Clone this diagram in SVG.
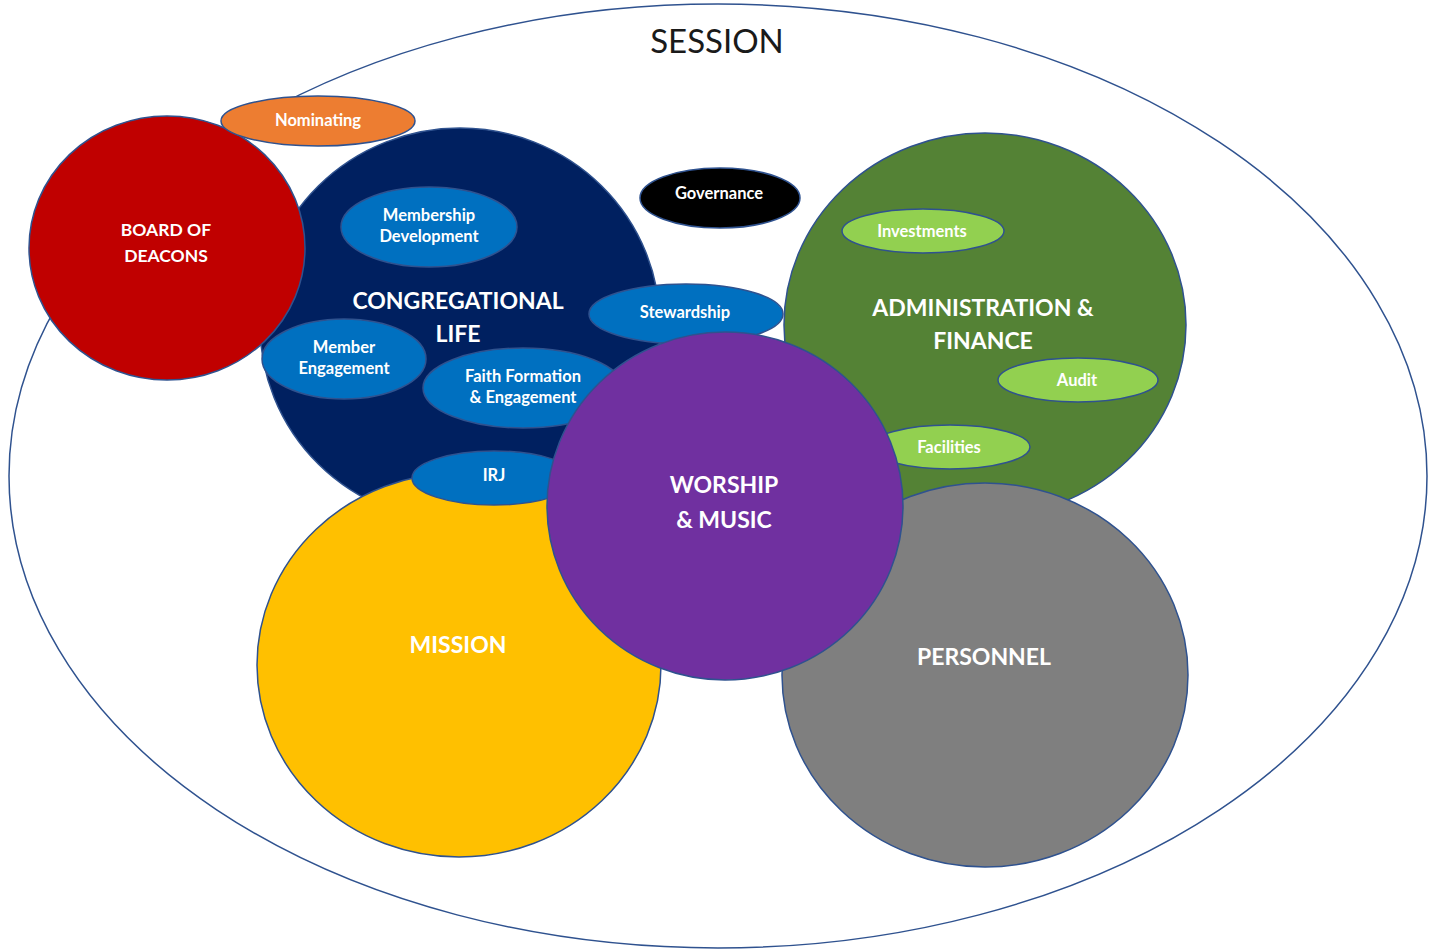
<svg xmlns="http://www.w3.org/2000/svg" width="1437" height="951" viewBox="0 0 1437 951">
<style>
.n{stroke:#2F528F;stroke-width:1.5}
.t{font-family:Lato,"Open Sans","Liberation Sans",sans-serif;font-weight:bold;fill:#fff;text-anchor:middle}
.big{font-size:23px}
.sm{font-size:16.5px}
</style>
<rect width="1437" height="951" fill="#fff"/>
<g id="session">
<ellipse class="n" cx="718" cy="476" rx="709" ry="472" fill="#fff"/>
<text x="717" y="53" style="font-family:Lato,'Open Sans','Liberation Sans',sans-serif;font-size:33px;fill:#1a1a1a;text-anchor:middle">SESSION</text>
</g>
<g id="congregational-life">
<ellipse class="n" cx="460" cy="325" rx="200" ry="197" fill="#002060"/>
<text class="t big" x="458" y="309">CONGREGATIONAL</text>
<text class="t big" x="458" y="342">LIFE</text>
</g>
<g id="membership-development">
<ellipse class="n" cx="429" cy="227" rx="88" ry="40" fill="#0070C0"/>
<text class="t sm" x="429" y="221">Membership</text>
<text class="t sm" x="429" y="242">Development</text>
</g>
<g id="member-engagement">
<ellipse class="n" cx="344" cy="359" rx="82" ry="40" fill="#0070C0"/>
<text class="t sm" x="344" y="353">Member</text>
<text class="t sm" x="344" y="374">Engagement</text>
</g>
<g id="faith-formation">
<ellipse class="n" cx="523" cy="388" rx="100" ry="40" fill="#0070C0"/>
<text class="t sm" x="523" y="382">Faith Formation</text>
<text class="t sm" x="523" y="403">&amp; Engagement</text>
</g>
<g id="board-of-deacons">
<ellipse class="n" cx="167" cy="248" rx="138" ry="132" fill="#C00000"/>
<text class="t" style="font-size:17.5px" x="166" y="236">BOARD OF</text>
<text class="t" style="font-size:17.5px" x="166" y="262">DEACONS</text>
</g>
<g id="nominating">
<ellipse class="n" cx="318" cy="121" rx="97" ry="25" fill="#ED7D31"/>
<text class="t sm" x="318" y="126">Nominating</text>
</g>
<g id="mission">
<ellipse class="n" cx="459" cy="665" rx="202" ry="192" fill="#FFC000"/>
<text class="t big" x="458" y="653">MISSION</text>
</g>
<g id="irj">
<ellipse class="n" cx="494" cy="478" rx="82" ry="27" fill="#0070C0"/>
<text class="t sm" x="494" y="481">IRJ</text>
</g>
<g id="administration-finance">
<ellipse class="n" cx="985" cy="325" rx="201" ry="192" fill="#548235"/>
<text class="t big" x="983" y="316">ADMINISTRATION &amp;</text>
<text class="t big" x="983" y="349">FINANCE</text>
</g>
<g id="investments">
<ellipse class="n" cx="923" cy="231" rx="81" ry="22" fill="#92D050"/>
<text class="t sm" x="922" y="237">Investments</text>
</g>
<g id="audit">
<ellipse class="n" cx="1078" cy="380" rx="80" ry="22" fill="#92D050"/>
<text class="t sm" x="1077" y="386">Audit</text>
</g>
<g id="personnel">
<ellipse class="n" cx="985" cy="675" rx="203" ry="192" fill="#7F7F7F"/>
<text class="t big" x="984" y="665">PERSONNEL</text>
</g>
<g id="facilities">
<ellipse class="n" cx="950" cy="447" rx="80" ry="22" fill="#92D050"/>
<text class="t sm" x="949" y="453">Facilities</text>
</g>
<g id="stewardship">
<ellipse class="n" cx="686" cy="314" rx="97" ry="30" fill="#0070C0"/>
<text class="t sm" x="685" y="318">Stewardship</text>
</g>
<g id="governance">
<ellipse class="n" cx="720" cy="198" rx="80" ry="30" fill="#000"/>
<text class="t sm" x="719" y="199">Governance</text>
</g>
<g id="worship-music">
<ellipse class="n" cx="725" cy="506" rx="178" ry="174" fill="#7030A0"/>
<text class="t big" x="724" y="493">WORSHIP</text>
<text class="t big" x="724" y="528">&amp; MUSIC</text>
</g>
<g id="connectors"></g>
</svg>
